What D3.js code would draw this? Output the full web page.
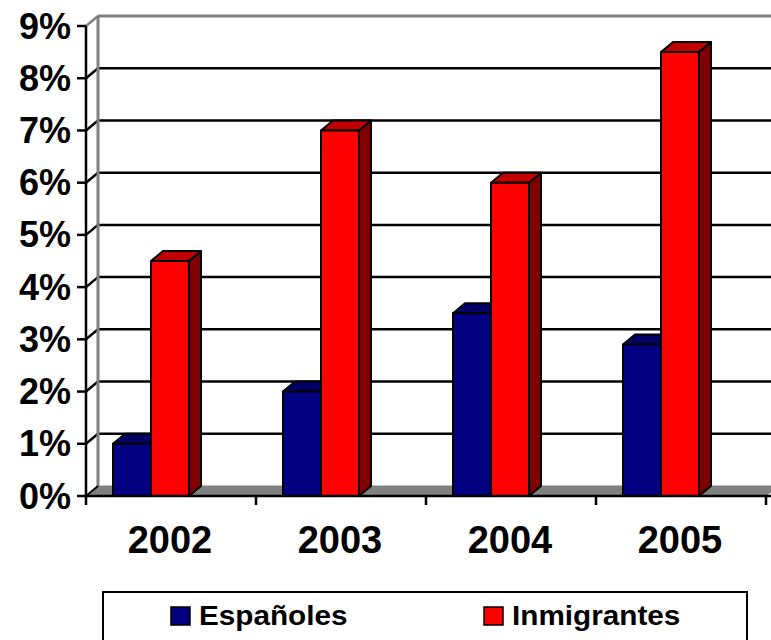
<!DOCTYPE html>
<html>
<head>
<meta charset="utf-8">
<script src="https://cdn.jsdelivr.net/npm/d3@7"></script>
<style>
  html, body { margin: 0; padding: 0; background: #fff; }
  svg { display: block; }
  text { font-family: "Liberation Sans", Arial, sans-serif; font-weight: bold; fill: #000; }
</style>
</head>
<body>
<script>
const categories = ["2002", "2003", "2004", "2005"];
const seriesNames = ["Españoles", "Inmigrantes"];
const espanoles = [1.0, 2.0, 3.5, 2.9];
const inmigrantes = [4.5, 7.0, 6.0, 8.5];
const yTicks = [0, 1, 2, 3, 4, 5, 6, 7, 8, 9];
const yTickLabels = ["0%", "1%", "2%", "3%", "4%", "5%", "6%", "7%", "8%", "9%"];

(function () {
const W = 771, H = 640;
const pL = 86, pR = 766, pB = 496, pT = 26;
const dx = 12, dy = -10;
const colors = {
  "Españoles": { front: "#000080", top: "#000066", side: "#000040" },
  "Inmigrantes": { front: "#ff0000", top: "#c00000", side: "#800000" }
};

const svg = d3.select("body").append("svg").attr("width", W).attr("height", H);

const x = d3.scaleBand().domain(categories).range([pL, pR]).paddingInner(0).paddingOuter(0);
const x1 = d3.scaleBand().domain(seriesNames).range([27, 103]).padding(0);
const y = d3.scaleLinear().domain([0, 9]).range([pB, pT]);

// floor
svg.append("path")
  .attr("d", `M${pL},${pB} L${pL + dx},${pB + dy} L${pR + dx},${pB + dy} L${pR},${pB} Z`)
  .attr("fill", "#808080").attr("stroke", "#808080").attr("stroke-width", 1);

// back wall gridlines
const grid = svg.append("g");
yTicks.filter(v => v > 0 && v < 9).forEach(v => {
  grid.append("line")
    .attr("x1", pL + dx).attr("x2", W)
    .attr("y1", y(v) + dy).attr("y2", y(v) + dy)
    .attr("stroke", "#000").attr("stroke-width", 2.5);
  grid.append("line")
    .attr("x1", pL).attr("x2", pL + dx)
    .attr("y1", y(v)).attr("y2", y(v) + dy)
    .attr("stroke", "#000").attr("stroke-width", 2.5);
});
// wall edges (grey)
svg.append("line").attr("x1", pL + dx).attr("x2", W).attr("y1", y(9) + dy).attr("y2", y(9) + dy)
  .attr("stroke", "#808080").attr("stroke-width", 3);
svg.append("line").attr("x1", pL + dx).attr("x2", pL + dx).attr("y1", y(9) + dy).attr("y2", y(0) + dy)
  .attr("stroke", "#808080").attr("stroke-width", 3);
svg.append("line").attr("x1", pL).attr("x2", pL + dx).attr("y1", y(9)).attr("y2", y(9) + dy)
  .attr("stroke", "#808080").attr("stroke-width", 2.5);
svg.append("line").attr("x1", pL).attr("x2", pL + dx).attr("y1", y(0)).attr("y2", y(0) + dy)
  .attr("stroke", "#000").attr("stroke-width", 2);

// bars
const data = [];
categories.forEach((c, i) => {
  data.push({ cat: c, s: "Españoles", v: espanoles[i] });
  data.push({ cat: c, s: "Inmigrantes", v: inmigrantes[i] });
});
const bars = svg.append("g");
data.forEach(d => {
  const x0 = x(d.cat) + x1(d.s), w = x1.bandwidth();
  const yt = y(d.v), yb = y(0);
  const g = bars.append("g").attr("stroke", "#000").attr("stroke-width", 2).attr("stroke-linejoin", "round");
  g.append("path") // side
    .attr("d", `M${x0 + w},${yb} L${x0 + w + dx},${yb + dy} L${x0 + w + dx},${yt + dy} L${x0 + w},${yt} Z`)
    .attr("fill", colors[d.s].side);
  g.append("path") // top
    .attr("d", `M${x0},${yt} L${x0 + dx},${yt + dy} L${x0 + w + dx},${yt + dy} L${x0 + w},${yt} Z`)
    .attr("fill", colors[d.s].top);
  g.append("rect") // front
    .attr("x", x0).attr("y", yt).attr("width", w).attr("height", yb - yt)
    .attr("fill", colors[d.s].front);
});

// y axis
svg.append("line").attr("x1", pL).attr("x2", pL).attr("y1", y(9)).attr("y2", y(0))
  .attr("stroke", "#000").attr("stroke-width", 2.5);
yTicks.forEach((v, i) => {
  svg.append("line").attr("x1", pL - 9).attr("x2", pL).attr("y1", y(v)).attr("y2", y(v))
    .attr("stroke", "#000").attr("stroke-width", 2.5);
  svg.append("text").attr("x", 71).attr("y", y(v) + 12.5)
    .attr("text-anchor", "end").attr("font-size", 36).text(yTickLabels[i]);
});

// x axis
svg.append("line").attr("x1", pL).attr("x2", W).attr("y1", pB).attr("y2", pB)
  .attr("stroke", "#000").attr("stroke-width", 2.5);
const bounds = categories.map(c => x(c)).concat([pR]);
bounds.forEach(b => {
  svg.append("line").attr("x1", b).attr("x2", b).attr("y1", pB).attr("y2", pB + 9)
    .attr("stroke", "#000").attr("stroke-width", 2.5);
});
categories.forEach(c => {
  svg.append("text").attr("x", x(c) + x.bandwidth() / 2 - 1).attr("y", 553)
    .attr("text-anchor", "middle").attr("font-size", 38).text(c);
});

// legend
svg.append("rect").attr("x", 103).attr("y", 592).attr("width", 644).attr("height", 70)
  .attr("fill", "#fff").attr("stroke", "#000").attr("stroke-width", 2);
const legendPos = [171, 484];
seriesNames.forEach((s, i) => {
  svg.append("rect").attr("x", legendPos[i]).attr("y", 607).attr("width", 19).attr("height", 18)
    .attr("fill", colors[s].front).attr("stroke", "#000").attr("stroke-width", 1.5);
  svg.append("text").attr("x", 0).attr("y", 0)
    .attr("transform", `translate(${legendPos[i] + 28},625) scale(1.1,1)`)
    .attr("font-size", 27).text(s);
});
})();
</script>
</body>
</html>
